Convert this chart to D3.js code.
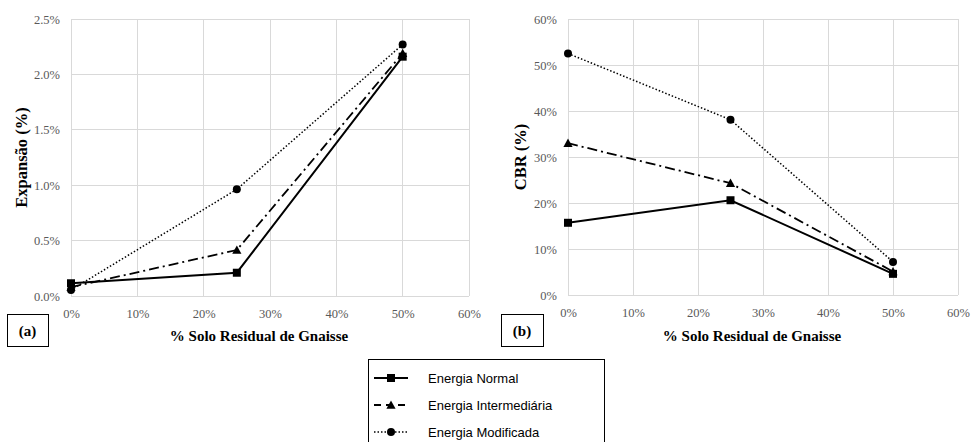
<!DOCTYPE html>
<html>
<head>
<meta charset="utf-8">
<script src="https://cdn.jsdelivr.net/npm/d3@7"></script>
<style>
  html, body { margin: 0; padding: 0; background: #fff; }
  svg { display: block; }
</style>
</head>
<body>
<svg id="chart" width="971" height="442"></svg>
<script>
// Percentage of residual gneiss soil in the mix (x values)
const soilPct = [0, 25, 50];

// Swell (%) for each compaction energy
const swellNormal = [0.115, 0.21, 2.16];
const swellIntermediate = [0.08, 0.415, 2.19];
const swellModified = [0.054, 0.963, 2.27];

// CBR (%) for each compaction energy
const cbrNormal = [15.7, 20.6, 4.6];
const cbrIntermediate = [33.0, 24.3, 5.1];
const cbrModified = [52.5, 38.1, 7.2];

const seriesNames = ["Energia Normal", "Energia Intermediária", "Energia Modificada"];

const xTicks = [0, 10, 20, 30, 40, 50, 60];
const swellTicks = [0, 0.5, 1.0, 1.5, 2.0, 2.5];
const cbrTicks = [0, 10, 20, 30, 40, 50, 60];

const svg = d3.select("#chart");
const serif = "'Liberation Serif', 'Times New Roman', serif";
const sans = "'Liberation Sans', Arial, sans-serif";
const gridColor = "#d9d9d9";
const tickColor = "#595959";

// Line styles per energy level
const styles = [
  { dash: null, width: 2, marker: "square" },
  { dash: "10,4,2,4", width: 1.8, marker: "triangle" },
  { dash: "1.5,2", width: 1.5, marker: "circle" }
];

function drawMarker(g, type, x, y) {
  if (type === "square") {
    g.append("rect").attr("x", x - 4).attr("y", y - 4).attr("width", 8).attr("height", 8).attr("fill", "#000");
  } else if (type === "triangle") {
    const s = 4.6;
    g.append("path").attr("d", `M${x},${y - s}L${x + s},${y + s * 0.8}L${x - s},${y + s * 0.8}Z`).attr("fill", "#000");
  } else {
    g.append("circle").attr("cx", x).attr("cy", y).attr("r", 4).attr("fill", "#000");
  }
}

function panel(opts) {
  const { left, right, top, bottom, yMax, yTicks, yFmt, series, yTitle, titleX, tag, tagBox } = opts;
  const x = d3.scaleLinear().domain([0, 60]).range([left, right]);
  const y = d3.scaleLinear().domain([0, yMax]).range([bottom, top]);
  const g = svg.append("g");

  // grid
  g.append("g").selectAll("line.v").data(xTicks).join("line")
    .attr("x1", d => x(d)).attr("x2", d => x(d)).attr("y1", top).attr("y2", bottom)
    .attr("stroke", gridColor).attr("stroke-width", 1).attr("shape-rendering", "crispEdges");
  g.append("g").selectAll("line.h").data(yTicks).join("line")
    .attr("x1", left).attr("x2", right).attr("y1", d => y(d)).attr("y2", d => y(d))
    .attr("stroke", gridColor).attr("stroke-width", 1).attr("shape-rendering", "crispEdges");

  // x axis
  const xAxis = d3.axisBottom(x).tickValues(xTicks).tickSize(0).tickPadding(13).tickFormat(d => d + "%");
  const xa = g.append("g").attr("transform", `translate(0,${bottom})`).call(xAxis)
    .attr("font-family", null).attr("font-size", null);
  xa.select(".domain").remove();
  xa.selectAll("text").style("font-family", serif).style("font-size", "12.5px").attr("fill", tickColor);

  // y axis
  const yAxis = d3.axisLeft(y).tickValues(yTicks).tickSize(0).tickPadding(11).tickFormat(yFmt);
  const ya = g.append("g").attr("transform", `translate(${left},0)`).call(yAxis)
    .attr("font-family", null).attr("font-size", null);
  ya.select(".domain").remove();
  ya.selectAll("text").style("font-family", serif).style("font-size", "12.5px").attr("fill", tickColor);

  // series lines and markers
  const line = d3.line().x((d, i) => x(soilPct[i])).y(d => y(d));
  series.forEach((vals, si) => {
    const st = styles[si];
    g.append("path").attr("d", line(vals)).attr("fill", "none").attr("stroke", "#000")
      .attr("stroke-width", st.width).attr("stroke-dasharray", st.dash);
    vals.forEach((v, i) => drawMarker(g, st.marker, x(soilPct[i]), y(v)));
  });

  // axis titles
  g.append("text").attr("transform", `translate(${titleX},${(top + bottom) / 2}) rotate(-90)`)
    .attr("text-anchor", "middle").attr("dominant-baseline", "central")
    .style("font-family", serif).attr("font-weight", "bold").style("font-size", "16.5px").text(yTitle);
  g.append("text").attr("x", (left + right) / 2 - 11).attr("y", 341)
    .attr("text-anchor", "middle").style("font-family", serif).attr("font-weight", "bold")
    .style("font-size", "15px").text("% Solo Residual de Gnaisse");

  // panel tag box
  g.append("rect").attr("x", tagBox[0] + 0.5).attr("y", 314.5).attr("width", tagBox[1] - tagBox[0]).attr("height", 32)
    .attr("fill", "#fff").attr("stroke", "#000").attr("stroke-width", 1);
  g.append("text").attr("x", (tagBox[0] + tagBox[1]) / 2).attr("y", 336)
    .attr("text-anchor", "middle").style("font-family", serif).attr("font-weight", "bold")
    .style("font-size", "15px").text(tag);
}

panel({
  left: 71, right: 469, top: 19, bottom: 296, yMax: 2.5, yTicks: swellTicks,
  yFmt: d => d.toFixed(1) + "%",
  series: [swellNormal, swellIntermediate, swellModified],
  yTitle: "Expansão (%)", titleX: 21, tag: "(a)", tagBox: [7, 48]
});

panel({
  left: 568, right: 958, top: 19, bottom: 295, yMax: 60, yTicks: cbrTicks,
  yFmt: d => d + "%",
  series: [cbrNormal, cbrIntermediate, cbrModified],
  yTitle: "CBR (%)", titleX: 520, tag: "(b)", tagBox: [501, 543]
});

// legend
const lg = svg.append("g");
lg.append("rect").attr("x", 368.5).attr("y", 359.5).attr("width", 236).attr("height", 90)
  .attr("fill", "#fff").attr("stroke", "#000").attr("stroke-width", 1);
const legendDash = [null, "7,5", "1.5,2"];
seriesNames.forEach((name, i) => {
  const cy = 378 + i * 27;
  const st = styles[i];
  lg.append("line").attr("x1", 374).attr("x2", 408).attr("y1", cy).attr("y2", cy)
    .attr("stroke", "#000").attr("stroke-width", st.width).attr("stroke-dasharray", legendDash[i]);
  drawMarker(lg, st.marker, 391, cy);
  lg.append("text").attr("x", 428).attr("y", cy).attr("dominant-baseline", "central")
    .style("font-family", sans).style("font-size", "13px").attr("fill", "#000").text(name);
});
</script>
</body>
</html>
